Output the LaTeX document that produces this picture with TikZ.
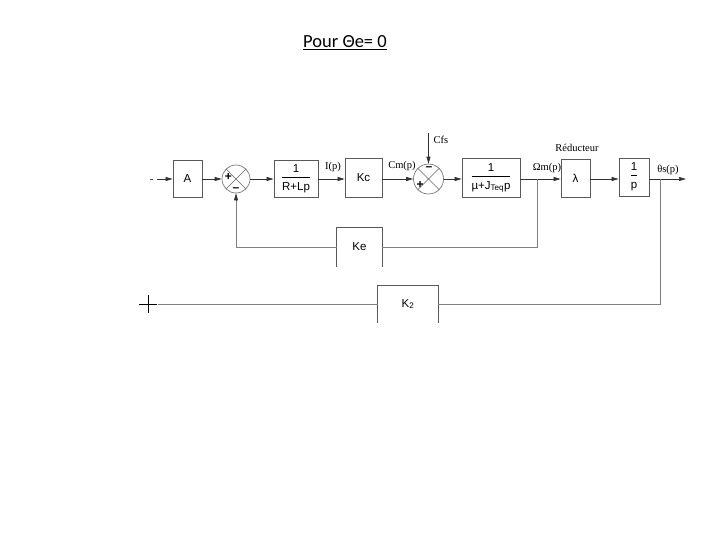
\documentclass[tikz,border=0pt]{standalone}
\usepackage{fontspec}
\setmainfont{Liberation Sans}
\newfontfamily\seriff{Liberation Serif}
\newfontfamily\titlef{Carlito}
\usetikzlibrary{arrows.meta}
\tikzset{
  blk/.style={draw=black!65, line width=0.8pt, fill=white, inner sep=1pt, font=\fontsize{11.5}{12}\selectfont},
  openblk/.style={inner sep=1pt, font=\fontsize{11.5}{12}\selectfont},
  boxline/.style={draw=black!65, line width=0.8pt},
  sumc/.style={draw=black!60, circle, minimum size=28pt, inner sep=0pt, line width=0.6pt},
  conn/.style={draw=black!80, line width=0.7pt, -{Triangle[length=7pt,width=4pt]}},
  fb/.style={draw=black!50, line width=0.8pt},
  lbl/.style={font=\seriff\fontsize{10.5}{11}\selectfont, inner sep=0pt},
  sgn/.style={font=\bfseries\fontsize{12}{12}\selectfont, inner sep=0pt}
}
\begin{document}
\begin{tikzpicture}[x=1pt,y=-1pt]
\useasboundingbox (0,0) rectangle (720,540);
\fill[white] (0,0) rectangle (720,540);
% title
\node[font=\titlef\fontsize{18.5}{20}\selectfont] (title) at (345,43) {\underline{Pour Θe= 0}};
% blocks
\node[blk, minimum width=29pt, minimum height=37pt] (A) at (187.5,179) {A};
\node[sumc] (s1) at (236,179) {};
\node[blk, minimum width=44pt, minimum height=37pt] (b1) at (296,179)
  {\begin{tabular}{@{}c@{}}1\\[1pt]\hline\rule{0pt}{12.5pt}R+Lp\end{tabular}};
\node[blk, minimum width=37pt, minimum height=39pt] (Kc) at (363.5,178) {Kc};
\node[sumc, minimum size=30pt] (s2) at (428.5,179) {};
\node[blk, minimum width=58pt, minimum height=39pt] (b3) at (491,178)
  {\begin{tabular}{@{}c@{}}1\\[1pt]\hline\rule{0pt}{12.5pt}µ+J\textsubscript{Teq}p\end{tabular}};
\node[blk, minimum width=29pt, minimum height=38pt] (lam) at (575.5,178) {λ};
\node[blk, minimum width=30pt, minimum height=38pt] (bp) at (634,177)
  {\begin{tabular}{@{}c@{}}1\\[1pt]\hline\rule{0pt}{12.5pt}p\end{tabular}};
\node[openblk, minimum width=45pt, minimum height=39pt] (Ke) at (359.5,247) {Ke};
\node[openblk, minimum width=60pt, minimum height=37pt] (K2) at (408,304) {K\textsubscript{2}};
\draw[boxline] (Ke.south west) -- (Ke.north west) -- (Ke.north east) -- (Ke.south east);
\draw[boxline] (K2.south west) -- (K2.north west) -- (K2.north east) -- (K2.south east);
% summing junction crosses
\draw[black!60, line width=0.6pt] (s1.north east) -- (s1.south west) (s1.north west) -- (s1.south east);
\draw[black!60, line width=0.6pt] (s2.north east) -- (s2.south west) (s2.north west) -- (s2.south east);
\node[sgn] (p1) at (228.5,177) {+};
\node[sgn] (m1) at (236,189.5) {\textendash};
\node[sgn] (p2) at (420,185) {+};
\node[sgn] (m2) at (429,168.5) {\textendash};
% coordinates
\coordinate (in) at (157,179);
\coordinate (cfs) at (428.5,133);
\coordinate (j1) at (537,179);
\coordinate (j2) at (660,179);
\coordinate (out) at (686,179);
\coordinate (k2end) at (158,304);
% input dash
\draw[black!70, line width=0.7pt] (149.5,179) -- (152.5,179);
% main connectors
\draw[conn] (in) -- (A.west);
\draw[conn] (A.east) -- (s1.west);
\draw[conn] (s1.east) -- (b1.west |- s1.east);
\draw[conn] (b1.east) -- (Kc.west |- b1.east);
\draw[conn] (Kc.east |- s2.west) -- (s2.west);
\draw[conn] (s2.east) -- (b3.west |- s2.east);
\draw[conn] (b3.east |- s2.east) -- (lam.west |- s2.east);
\draw[conn] (lam.east |- s2.east) -- (bp.west |- s2.east);
\draw[conn] (bp.east |- s2.east) -- (out);
\draw[conn] (cfs) -- (s2.north);
% feedback
\draw[fb] (j1) |- (Ke.east);
\draw[fb] (Ke.west) -| (236,195);
\draw[conn] (236,200) -- (s1.south);
\draw[fb] (j2) |- (K2.east);
\draw[fb] (K2.west) -- (k2end);
\draw[black, line width=0.8pt] (139,304) -- (157,304) (148,295) -- (148,313);
% labels
\node[lbl] (lI) at (333,167) {I(p)};
\node[lbl] (lCm) at (402,166) {Cm(p)};
\node[lbl] (lCfs) at (441,140) {Cfs};
\node[lbl] (lOm) at (547,168) {Ωm(p)};
\node[lbl] (lRed) at (577,148) {Réducteur};
\node[lbl] (lth) at (668,170) {θs(p)};
\end{tikzpicture}
\end{document}
